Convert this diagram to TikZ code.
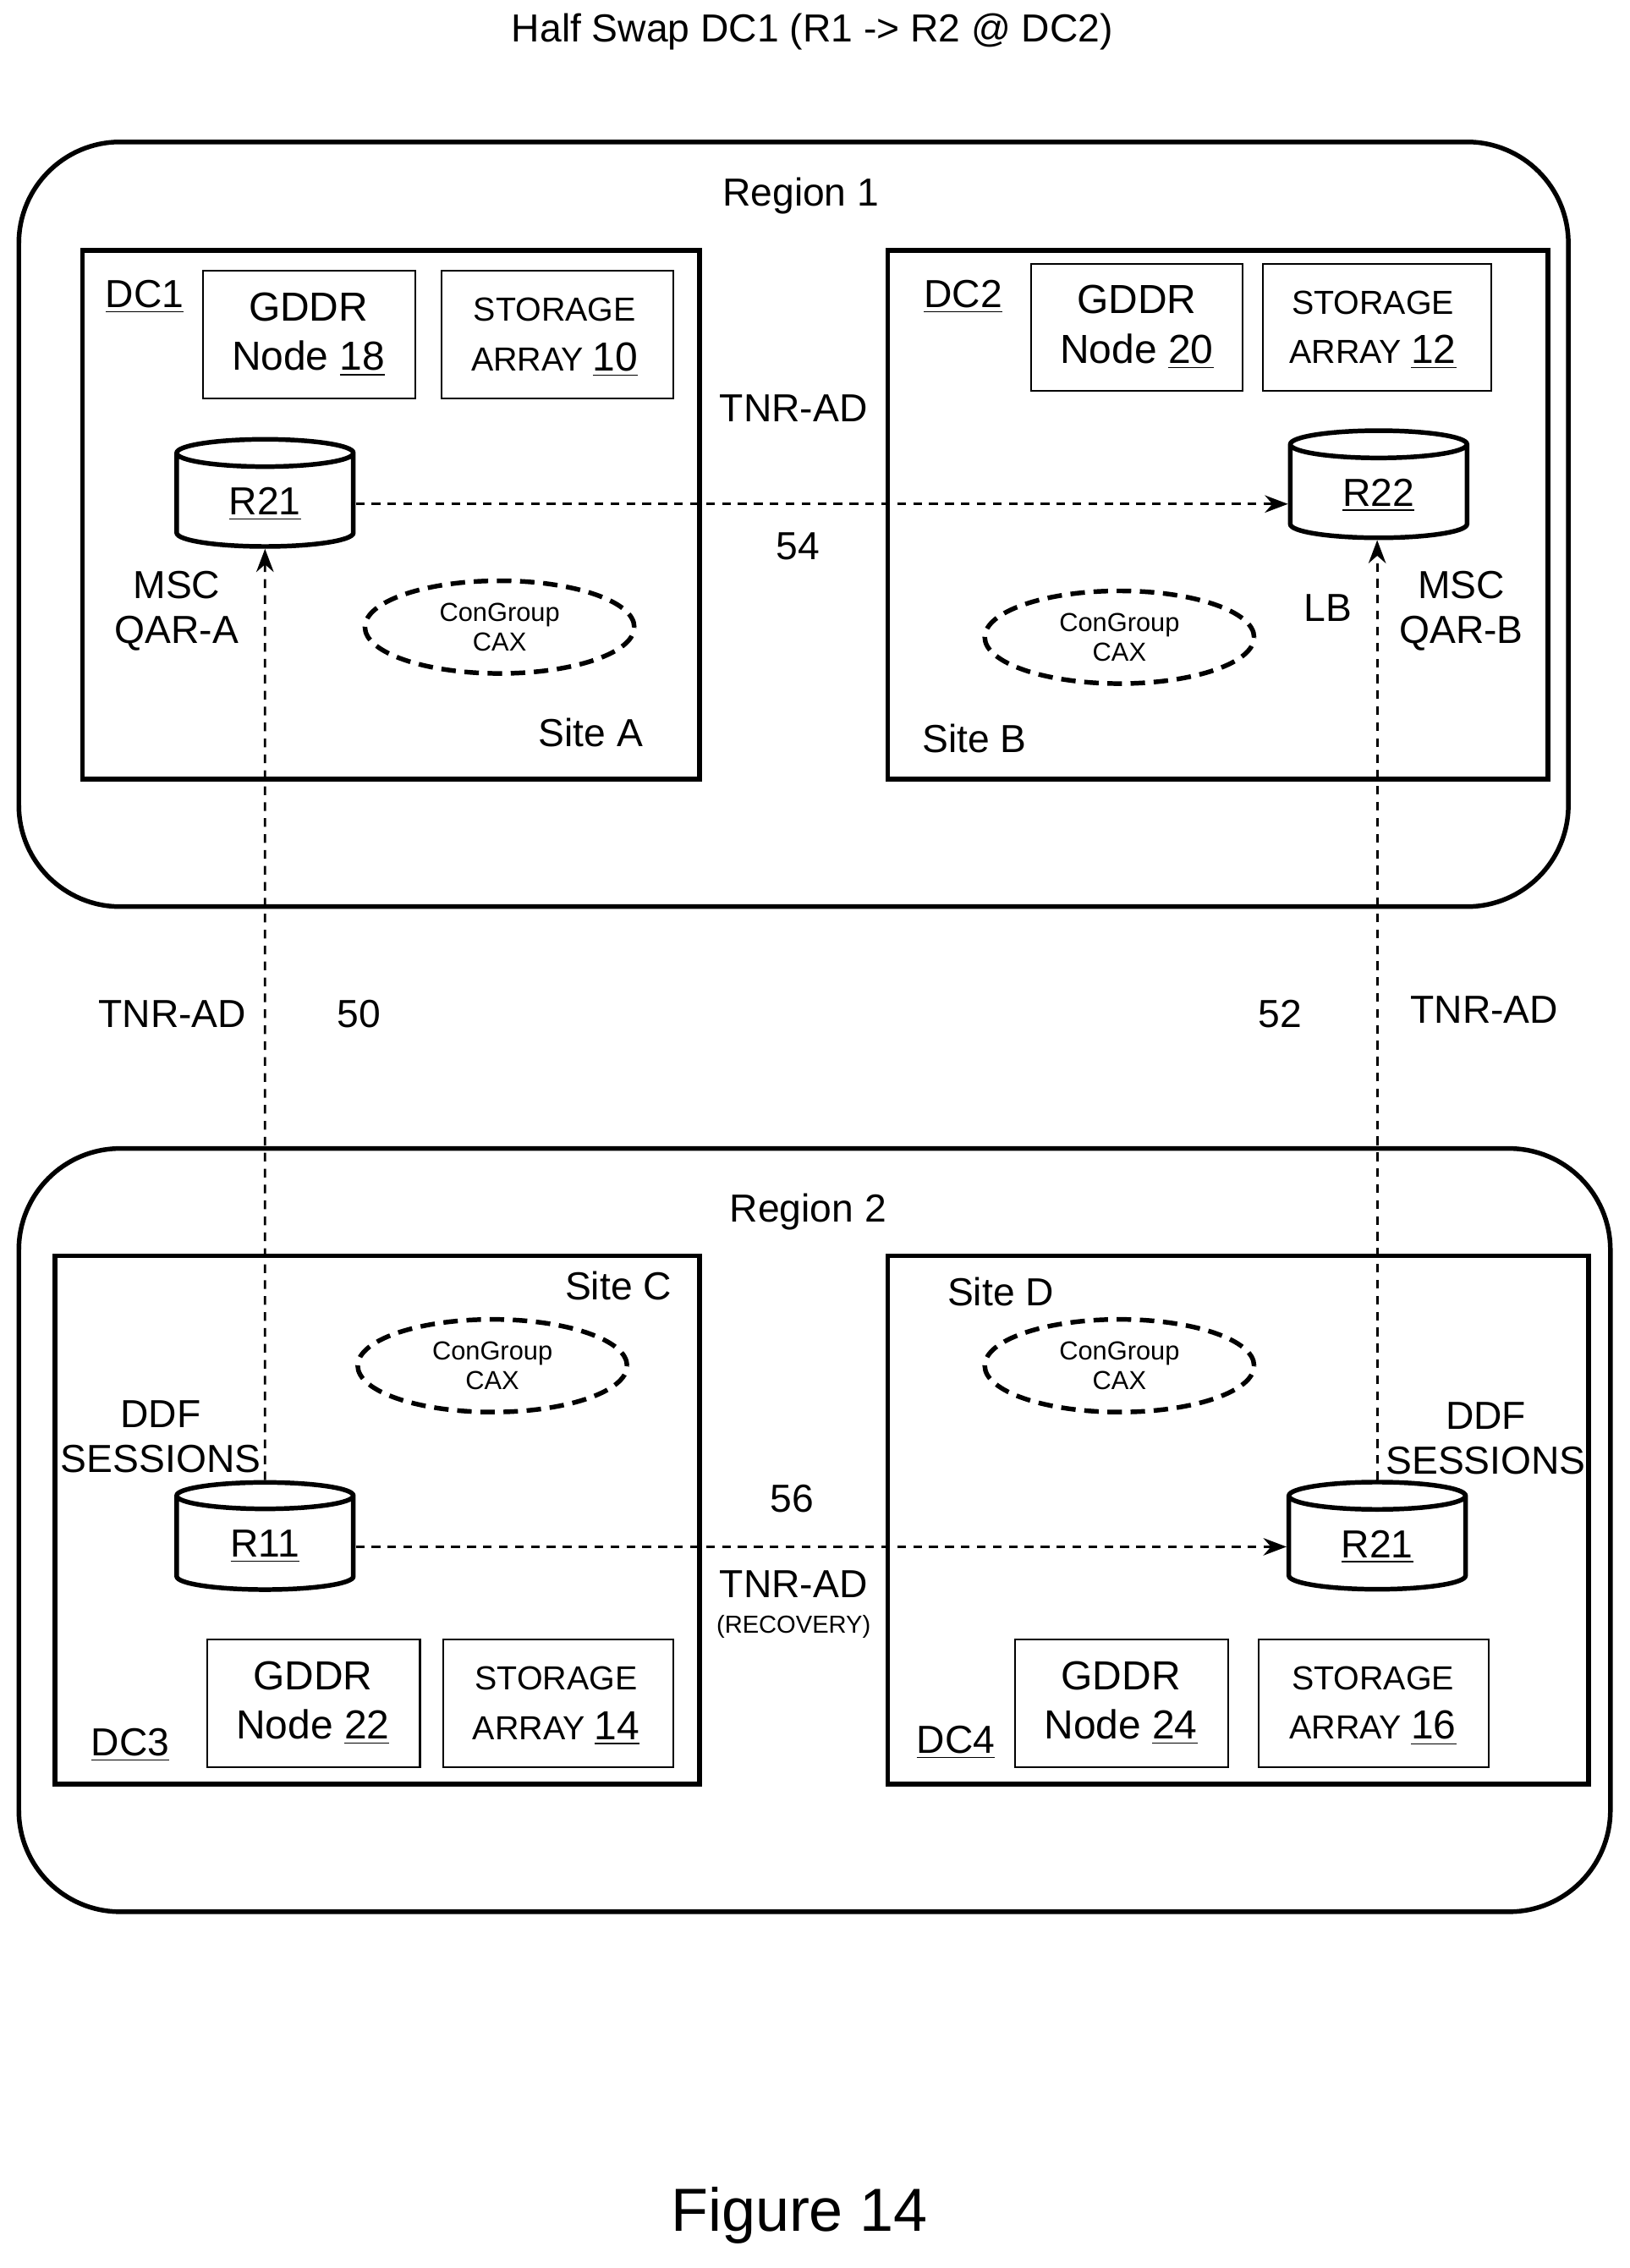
\documentclass[tikz,border=0pt]{standalone}
\usepackage{fontspec}
\setmainfont{Liberation Sans}
\usetikzlibrary{shapes.geometric,arrows.meta}
\begin{document}
\begin{tikzpicture}[x=0.5pt,y=-0.5pt,
  region/.style={draw,line width=1.6pt,rounded corners=35pt},
  site/.style={draw,line width=1.6pt},
  comp/.style={draw,line width=0.6pt},
  cyl/.style={draw,line width=1.6pt,cylinder,shape border rotate=90,aspect=0.3,minimum width=61pt,minimum height=37pt,font=\fontsize{13.5}{13}\selectfont},
  cg/.style={draw,line width=1.6pt,dash pattern=on 5pt off 3pt,ellipse,minimum width=93pt,minimum height=32pt,align=center,font=\fontsize{9}{10}\selectfont,inner sep=0pt},
  lbl/.style={font=\fontsize{13.5}{15.5}\selectfont,align=center},
  big/.style={font=\fontsize{14}{17}\selectfont,align=center},
  sto/.style={font=\fontsize{11.5}{17}\selectfont,align=center},
  sm/.style={font=\fontsize{8.5}{10}\selectfont},
  arr/.style={line width=0.8pt,dash pattern=on 3pt off 2.5pt,-{Stealth[length=8pt,width=6pt]}}]
\useasboundingbox (0,0) rectangle (1125,1566);
\node[lbl] (title) at (561,22) {Half Swap DC1 (R1 -> R2 @ DC2)};
% Region 1
\draw[region] (13,98) rectangle (1083,626);
\node[lbl] (reg1) at (553,135) {Region 1};
\draw[site] (57,173) rectangle (483,538);
\draw[site] (613,173) rectangle (1069,538);
\draw[comp] (140,187) rectangle (287,275);
\node[big] (g18) at (213,231) {GDDR\\Node \underline{18}};
\draw[comp] (305,187) rectangle (465,275);
\node[sto] (s10) at (383,233) {STORAGE\\ARRAY \underline{\fontsize{14}{17}\selectfont 10}};
\node[lbl] (dc1) at (100,205) {\underline{DC1}};
\node[cyl] (r21a) at (183,348) {\underline{R21}};
\node[lbl] (mscA) at (122,422) {MSC\\QAR-A};
\node[cg] (cg1) at (345,433) {ConGroup\\CAX};
\node[lbl] (siteA) at (408,506) {Site A};
\node[lbl] (tnr1) at (548,282) {TNR-AD};
\node[lbl] (n54) at (551,377) {54};
\node[lbl] (dc2) at (665,205) {\underline{DC2}};
\draw[comp] (712,182) rectangle (858,270);
\node[big] (g20) at (785,226) {GDDR\\Node \underline{20}};
\draw[comp] (872,182) rectangle (1030,270);
\node[sto] (s12) at (948,228) {STORAGE\\ARRAY \underline{\fontsize{14}{17}\selectfont 12}};
\node[cyl] (r22) at (952,342) {\underline{R22}};
\node[lbl] (lb) at (917,420) {LB};
\node[lbl] (mscB) at (1009,422) {MSC\\QAR-B};
\node[cg] (cg2) at (773,440) {ConGroup\\CAX};
\node[lbl] (siteB) at (673,510) {Site B};
\draw[arr] (r21a.east) -- (r21a.east -| r22.west);
% labels between
\node[lbl] (tnr2) at (119,700) {TNR-AD};
\node[lbl] (n50) at (248,700) {50};
\node[lbl] (n52) at (884,700) {52};
\node[lbl] (tnr3) at (1025,697) {TNR-AD};
% Region 2
\draw[region] (13,793) rectangle (1112,1320);
\node[lbl] (reg2) at (558,837) {Region 2};
\draw[site] (38,867) rectangle (483,1232);
\draw[site] (613,867) rectangle (1097,1232);
\node[lbl] (siteC) at (427,888) {Site C};
\node[cg] (cg3) at (340,943) {ConGroup\\CAX};
\node[lbl] (ddf1) at (111,992) {DDF\\SESSIONS};
\node[cyl] (r11) at (183,1068) {\underline{R11}};
\draw[comp] (143,1132) rectangle (290,1220);
\node[big] (g22) at (216,1176) {GDDR\\Node \underline{22}};
\draw[comp] (306,1132) rectangle (465,1220);
\node[sto] (s14) at (384,1178) {STORAGE\\ARRAY \underline{\fontsize{14}{17}\selectfont 14}};
\node[lbl] (dc3) at (90,1205) {\underline{DC3}};
\node[lbl] (siteD) at (691,892) {Site D};
\node[cg] (cg4) at (773,943) {ConGroup\\CAX};
\node[lbl] (ddf2) at (1026,993) {DDF\\SESSIONS};
\node[cyl] (r21b) at (951,1068) {\underline{R21}};
\draw[comp] (701,1132) rectangle (848,1220);
\node[big] (g24) at (774,1176) {GDDR\\Node \underline{24}};
\draw[comp] (869,1132) rectangle (1028,1220);
\node[sto] (s16) at (948,1178) {STORAGE\\ARRAY \underline{\fontsize{14}{17}\selectfont 16}};
\node[lbl] (dc4) at (660,1203) {\underline{DC4}};
\node[lbl] (n56) at (547,1035) {56};
\node[lbl] (tnr4) at (548,1094) {TNR-AD};
\node[sm] (rec) at (548,1123) {(RECOVERY)};
\draw[arr] (r11.east) -- (r11.east -| r21b.west);
\draw[arr] (r11.north) -- (r21a.south);
\draw[arr] (r21b.north) -- (r21b.north |- r22.south);
\node[font=\fontsize{21}{24}\selectfont] (fig) at (552,1530) {Figure 14};
\end{tikzpicture}
\end{document}
